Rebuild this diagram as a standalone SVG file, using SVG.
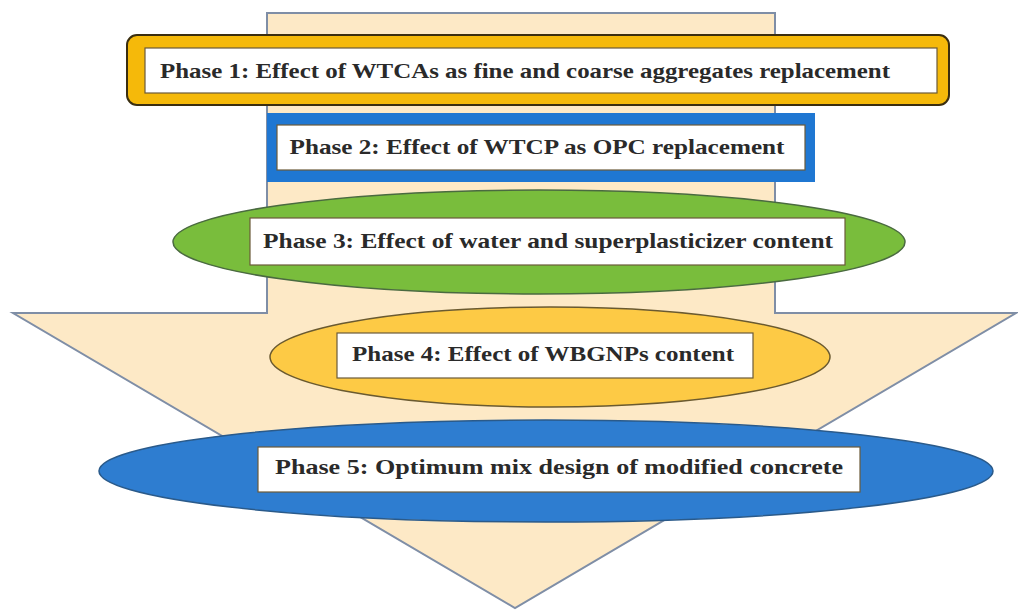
<svg xmlns="http://www.w3.org/2000/svg" width="1018" height="611" viewBox="0 0 1018 611">
<style>
.t{font-family:"Liberation Serif","Times New Roman",serif;font-weight:bold;font-size:21px;fill:#2a2a2a;text-anchor:middle;dominant-baseline:central}
.box{fill:#ffffff;stroke:#6b5a3a;stroke-width:1.2}
</style>
<rect width="1018" height="611" fill="#ffffff"/>
<g id="arrow">
<path d="M267,13 L775,13 L775,313 L1016,313 L515,608 L13,313 L267,313 Z" fill="#fde9c6" stroke="#7f8ea6" stroke-width="2"/>
</g>
<g id="phase1">
<rect x="127" y="35" width="822" height="70" rx="10" fill="#f5b90a" stroke="#3a2e10" stroke-width="2"/>
<rect x="145" y="48" width="792" height="45" class="box"/>
<text x="525" y="71" class="t" textLength="730" lengthAdjust="spacingAndGlyphs">Phase 1: Effect of WTCAs as fine and coarse aggregates replacement</text>
</g>
<g id="phase2">
<rect x="267" y="113" width="548" height="69" fill="#1f77d2"/>
<rect x="277" y="125" width="528" height="45" class="box" stroke="#2a4a70"/>
<text x="537" y="147" class="t" textLength="495" lengthAdjust="spacingAndGlyphs">Phase 2: Effect of WTCP as OPC replacement</text>
</g>
<g id="phase3">
<ellipse cx="539" cy="242" rx="366" ry="52" fill="#79bd3c" stroke="#4a6a40" stroke-width="1.5"/>
<rect x="250" y="218" width="595" height="47" class="box"/>
<text x="548" y="241" class="t" textLength="570" lengthAdjust="spacingAndGlyphs">Phase 3: Effect of water and superplasticizer content</text>
</g>
<g id="phase4">
<ellipse cx="550" cy="357" rx="280" ry="50" fill="#fdca45" stroke="#6a5a30" stroke-width="1.5"/>
<rect x="337" y="333" width="416" height="45" class="box"/>
<text x="543" y="354" class="t" textLength="382" lengthAdjust="spacingAndGlyphs">Phase 4: Effect of WBGNPs content</text>
</g>
<g id="phase5">
<ellipse cx="546" cy="471" rx="447" ry="51" fill="#2e7dd0" stroke="#2a5a8a" stroke-width="1.5"/>
<rect x="258" y="447" width="602" height="45" class="box"/>
<text x="559" y="467" class="t" textLength="568" lengthAdjust="spacingAndGlyphs">Phase 5: Optimum mix design of modified concrete</text>
</g>
</svg>
